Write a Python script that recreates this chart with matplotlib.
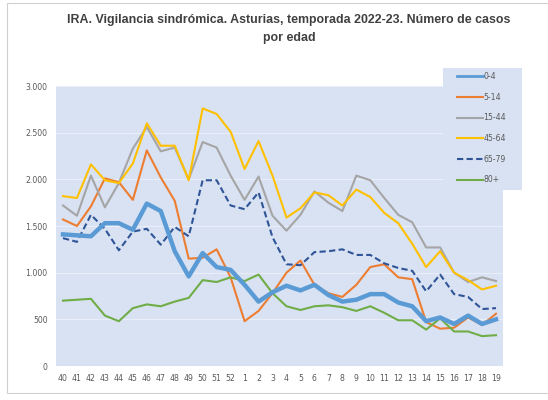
import matplotlib
matplotlib.use("Agg")
import matplotlib.pyplot as plt
from matplotlib.patches import Rectangle
from matplotlib.ticker import FuncFormatter

# Epidemiological weeks, season 2022-23
weeks = ["40", "41", "42", "43", "44", "45", "46", "47", "48", "49", "50",
         "51", "52", "1", "2", "3", "4", "5", "6", "7", "8", "9", "10",
         "11", "12", "13", "14", "15", "16", "17", "18", "19"]

cases_0_4 = [1410, 1400, 1390, 1530, 1530, 1460, 1740, 1660, 1230, 960, 1210,
             1060, 1030, 870, 690, 790, 860, 810, 870, 760, 690, 710, 770,
             770, 680, 640, 480, 520, 450, 540, 450, 500]
cases_5_14 = [1570, 1500, 1710, 2010, 1970, 1780, 2310, 2020, 1770, 1150, 1160,
              1250, 950, 480, 590, 780, 1000, 1130, 870, 780, 740, 870, 1060,
              1090, 950, 930, 470, 400, 410, 520, 440, 560]
cases_15_44 = [1720, 1610, 2040, 1700, 1960, 2330, 2560, 2300, 2340, 2000, 2400,
               2340, 2040, 1780, 2030, 1610, 1450, 1620, 1870, 1750, 1660, 2040,
               1990, 1800, 1620, 1540, 1270, 1270, 1000, 900, 950, 910]
cases_45_64 = [1820, 1800, 2160, 1990, 1960, 2170, 2600, 2360, 2360, 1990, 2760,
               2700, 2510, 2110, 2410, 2040, 1590, 1690, 1860, 1830, 1720, 1890,
               1810, 1640, 1530, 1310, 1060, 1230, 1000, 920, 820, 860]
cases_65_79 = [1370, 1330, 1620, 1470, 1240, 1440, 1470, 1300, 1490, 1390, 1990,
               1990, 1720, 1680, 1860, 1380, 1090, 1080, 1220, 1230, 1250, 1190,
               1190, 1100, 1050, 1020, 800, 980, 770, 740, 610, 620]
cases_80 = [700, 710, 720, 540, 480, 620, 660, 640, 690, 730, 920,
            900, 950, 910, 980, 780, 640, 600, 640, 650, 630, 590, 640,
            570, 490, 490, 390, 510, 370, 370, 320, 330]

series_labels = ["0-4", "5-14", "15-44", "45-64", "65-79", "80+"]

W, H = 548, 400
plot_bg = "#D9E2F3"
text_color = "#595959"

fig = plt.figure(figsize=(W / 100, H / 100), dpi=100)
fig.patch.set_facecolor("white")

# thin chart frame
fig.patches.append(Rectangle((7 / W, 7 / H), 1.0, (H - 10) / H,
                             transform=fig.transFigure, fill=False,
                             edgecolor="#D0D0D0", linewidth=0.8))

ax = fig.add_axes((56 / W, (H - 366) / H, (503 - 56) / W, (366 - 86) / H))
ax.set_facecolor(plot_bg)

x = range(len(weeks))
ax.plot(x, cases_0_4, color="#5B9BD5", linewidth=3.2,
        solid_joinstyle="round", label=series_labels[0], zorder=3)
ax.plot(x, cases_5_14, color="#ED7D31", linewidth=1.5, label=series_labels[1])
ax.plot(x, cases_15_44, color="#A5A5A5", linewidth=1.5, label=series_labels[2])
ax.plot(x, cases_45_64, color="#FFC000", linewidth=1.5, label=series_labels[3])
ax.plot(x, cases_65_79, color="#2F5597", linewidth=1.5,
        linestyle=(0, (3, 1.6)), label=series_labels[4])
ax.plot(x, cases_80, color="#70AD47", linewidth=1.5, label=series_labels[5])

ax.set_ylim(0, 3000)
ax.set_xlim(-0.5, len(weeks) - 0.5)
ax.set_yticks(range(0, 3001, 500))
ax.yaxis.set_major_formatter(
    FuncFormatter(lambda v, p: f"{int(v):,}".replace(",", ".")))
ax.set_xticks(list(x))
ax.set_xticklabels(weeks)
ax.grid(axis="y", color="#E9EEF8", linewidth=0.8)
ax.set_axisbelow(True)
for s in ax.spines.values():
    s.set_visible(False)
ax.tick_params(length=0, labelsize=5.6, labelcolor=text_color, pad=6)

fig.text(289 / W, 1 - 20 / H,
         "IRA. Vigilancia sindrómica. Asturias, temporada 2022-23. Número de casos",
         ha="center", va="center", fontsize=8.9, fontweight="bold",
         color="#404040", family="Liberation Sans")
fig.text(289 / W, 1 - 38 / H, "por edad",
         ha="center", va="center", fontsize=8.9, fontweight="bold",
         color="#404040", family="Liberation Sans")

# legend box sits partly above the plot area
fig.patches.append(Rectangle((443 / W, 1 - 190 / H), 79 / W, 122 / H,
                             transform=fig.transFigure, facecolor=plot_bg,
                             edgecolor="none", zorder=2))
leg = fig.legend(loc="upper left", bbox_to_anchor=(457 / W, 1 - 72 / H),
                 frameon=False, fontsize=5.6, labelcolor=text_color,
                 handlelength=3.3, handletextpad=0.1, labelspacing=1.5,
                 borderpad=0, borderaxespad=0)
leg.set_zorder(3)
leg.legend_handles[0].set_linewidth(2.0)

fig.savefig("out.png", dpi=100)
